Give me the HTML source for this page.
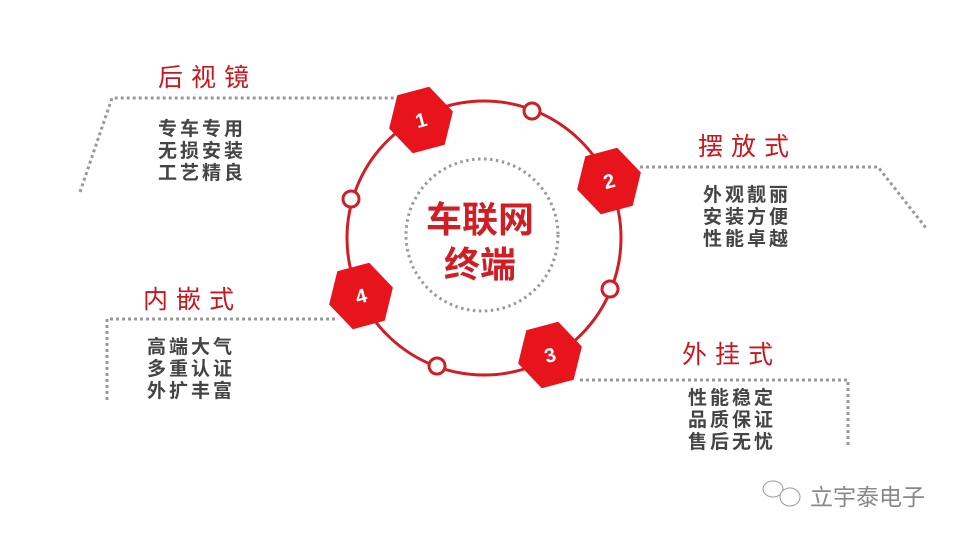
<!DOCTYPE html>
<html><head><meta charset="utf-8"><style>
html,body{margin:0;padding:0;background:#fff;}
svg{display:block;}
.t{font-family:"Liberation Sans","Noto Sans CJK SC",sans-serif;fill:#c8161d;font-size:25px;letter-spacing:8px;}
.s{font-family:"Liberation Sans","Noto Sans CJK SC",sans-serif;fill:#444;font-size:19px;font-weight:bold;letter-spacing:3px;}
.n{font-family:"Liberation Sans",sans-serif;fill:#fff;font-size:20px;font-weight:bold;text-anchor:middle;}
.d{stroke:#999;stroke-width:3;stroke-dasharray:3 3;fill:none;}
</style></head><body>
<svg width="960" height="540" viewBox="0 0 960 540" xmlns="http://www.w3.org/2000/svg">
<polyline class="d" points="80,192 112,98 400,98"/>
<polyline class="d" points="640,167 878,167 926,228"/>
<polyline class="d" points="335,319 107,319 107,400"/>
<polyline class="d" points="580,380 848,380 848,446"/>
<circle cx="484" cy="238" r="137" fill="none" stroke="#d01e25" stroke-width="3"/>
<circle cx="482" cy="235" r="76" fill="none" stroke="#999" stroke-width="3" stroke-dasharray="2.5 3.5"/>
<text x="480" y="232" text-anchor="middle" font-family="Liberation Sans,Noto Sans CJK SC,sans-serif" font-size="36" font-weight="bold" fill="#d01e25">车联网</text>
<text x="480" y="277" text-anchor="middle" font-family="Liberation Sans,Noto Sans CJK SC,sans-serif" font-size="36" font-weight="bold" fill="#d01e25">终端</text>
<g fill="#fff" stroke="#d01e25" stroke-width="3">
<circle cx="532" cy="111" r="8"/>
<circle cx="351" cy="199" r="8"/>
<circle cx="610" cy="289" r="8"/>
<circle cx="437" cy="366" r="8"/>
</g>
<g fill="#e8141c">
<polygon transform="translate(421,120) rotate(-15)" points="-33,0 -16.5,-30 16.5,-30 33,0 16.5,30 -16.5,30"/>
<polygon transform="translate(609,181) rotate(-15)" points="-33,0 -16.5,-30 16.5,-30 33,0 16.5,30 -16.5,30"/>
<polygon transform="translate(550,355) rotate(-15)" points="-33,0 -16.5,-30 16.5,-30 33,0 16.5,30 -16.5,30"/>
<polygon transform="translate(361,296) rotate(-15)" points="-33,0 -16.5,-30 16.5,-30 33,0 16.5,30 -16.5,30"/>
</g>
<text class="n" x="421" y="127" transform="rotate(-15 421 120)">1</text>
<text class="n" x="609" y="188" transform="rotate(-15 609 181)">2</text>
<text class="n" x="550" y="362" transform="rotate(-15 550 355)">3</text>
<text class="n" x="361" y="303" transform="rotate(-15 361 296)">4</text>
<text class="t" x="158" y="86">后视镜</text>
<text class="s" x="158" y="135">专车专用</text>
<text class="s" x="158" y="157">无损安装</text>
<text class="s" x="158" y="179">工艺精良</text>
<text class="t" x="698" y="155">摆放式</text>
<text class="s" x="703" y="201">外观靓丽</text>
<text class="s" x="703" y="223">安装方便</text>
<text class="s" x="703" y="245">性能卓越</text>
<text class="t" x="143" y="308">内嵌式</text>
<text class="s" x="147" y="353">高端大气</text>
<text class="s" x="147" y="375">多重认证</text>
<text class="s" x="147" y="397">外扩丰富</text>
<text class="t" x="682" y="363">外挂式</text>
<text class="s" x="688" y="404">性能稳定</text>
<text class="s" x="688" y="426">品质保证</text>
<text class="s" x="688" y="448">售后无忧</text>
<g fill="none" stroke="#999" stroke-width="1">
<ellipse cx="773" cy="489" rx="10" ry="8"/>
<ellipse cx="790" cy="497" rx="10" ry="9" fill="#fff"/>
</g>
<text x="810" y="505" font-family="Liberation Sans,Noto Sans CJK SC,sans-serif" font-size="23" fill="#888">立宇泰电子</text>
</svg>
</body></html>
